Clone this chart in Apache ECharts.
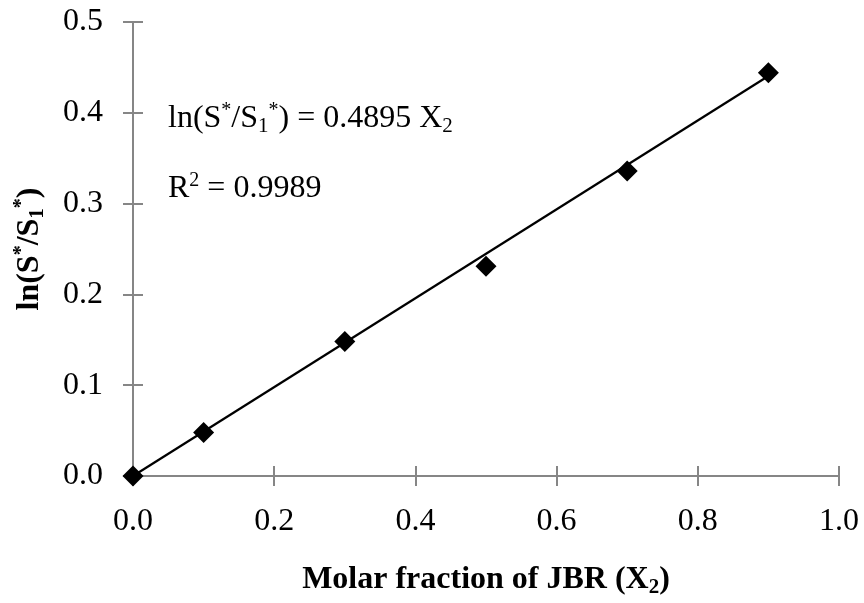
<!DOCTYPE html>
<html>
<head>
<meta charset="utf-8">
<script src="https://cdn.jsdelivr.net/npm/echarts@6/dist/echarts.min.js"></script>
<style>html,body{margin:0;padding:0;background:#fff}#c{width:864px;height:603px}</style>
</head>
<body>
<div id="c"></div>
<script>
const xValues = [0.0, 0.1, 0.3, 0.5, 0.7, 0.9];
const yValues = [0.0, 0.048, 0.148, 0.231, 0.336, 0.444];
const slope = 0.4895;
const rSquared = '0.9989';
const trendX = [0.0, 0.9];

const FONT = '"Liberation Serif","Times New Roman",serif';
const chart = echarts.init(document.getElementById('c'));

const points = xValues.map((x, i) => [x, yValues[i]]);
const trend = trendX.map(x => [x, slope * x]);

const axisLine = {show: true, lineStyle: {color: '#868686', width: 2}};
const fmt = v => v.toFixed(1);

const rich = {
  n: {fontFamily: FONT, fontSize: 32, lineHeight: 36, color: '#000', verticalAlign: 'middle'},
  sup: {fontFamily: FONT, fontSize: 20, lineHeight: 20, color: '#000', verticalAlign: 'top'},
  sub: {fontFamily: FONT, fontSize: 21, lineHeight: 20, color: '#000', verticalAlign: 'bottom'}
};
const richB = {
  n: {fontFamily: FONT, fontSize: 32, lineHeight: 36, fontWeight: 'bold', color: '#000'},
  sup: {fontFamily: FONT, fontSize: 20, lineHeight: 20, fontWeight: 'bold', color: '#000', verticalAlign: 'top'},
  sub: {fontFamily: FONT, fontSize: 21, lineHeight: 20, fontWeight: 'bold', color: '#000', verticalAlign: 'bottom'}
};

chart.setOption({
  animation: false,
  backgroundColor: '#fff',
  grid: {left: 133, right: 25, top: 22, bottom: 125, containLabel: false},
  xAxis: [{
    type: 'value', min: 0, max: 1, interval: 0.2, position: 'bottom',
    axisLine: axisLine,
    axisTick: {show: true, inside: false, length: 10, lineStyle: {color: '#868686', width: 2}},
    axisLabel: {formatter: fmt, fontFamily: FONT, fontSize: 32, color: '#000', margin: 30},
    splitLine: {show: false},
    name: '{n|Molar fraction of JBR (X}{sub|2}{n|)}',
    nameLocation: 'middle', nameGap: 86,
    nameTextStyle: {rich: richB, fontFamily: FONT, fontSize: 32, fontWeight: 'bold', color: '#000'}
  }, {
    type: 'value', min: 0, max: 1, interval: 0.2, position: 'bottom', offset: 0,
    axisLine: {show: false},
    axisTick: {show: true, inside: true, length: 10, lineStyle: {color: '#868686', width: 2}},
    axisLabel: {show: false}, splitLine: {show: false}
  }],
  yAxis: [{
    type: 'value', min: 0, max: 0.5, interval: 0.1, position: 'left',
    axisLine: axisLine,
    axisTick: {show: true, inside: false, length: 10, lineStyle: {color: '#868686', width: 2}},
    axisLabel: {formatter: fmt, fontFamily: FONT, fontSize: 32, color: '#000', margin: 30},
    splitLine: {show: false},
    name: '{n|ln(S}{sup|*}{n|/S}{sub|1}{sup|*}{n|)}',
    nameLocation: 'middle', nameGap: 85, nameRotate: 90,
    nameTextStyle: {rich: richB, fontFamily: FONT, fontSize: 32, fontWeight: 'bold', color: '#000'}
  }, {
    type: 'value', min: 0, max: 0.5, interval: 0.1, position: 'left', offset: 0,
    axisLine: {show: false},
    axisTick: {show: true, inside: true, length: 10, lineStyle: {color: '#868686', width: 2}},
    axisLabel: {show: false}, splitLine: {show: false}
  }],
  graphic: [{
    type: 'text', left: 168, top: 101, z: 10,
    style: {
      text: '{n|ln(S}{sup|*}{n|/S}{sub|1}{sup|*}{n|) = 0.4895 X}{sub|2}',
      rich: rich, font: '32px ' + FONT, fill: '#000'
    }
  }, {
    type: 'text', left: 168, top: 171, z: 10,
    style: {
      text: '{n|R}{sup|2}{n| = ' + rSquared + '}',
      rich: rich, font: '32px ' + FONT, fill: '#000'
    }
  }],
  series: [{
    type: 'line', data: trend, xAxisIndex: 0, yAxisIndex: 0,
    showSymbol: false, symbol: 'none',
    lineStyle: {color: '#000', width: 2.2}, z: 2, silent: true
  }, {
    type: 'scatter', data: points, xAxisIndex: 0, yAxisIndex: 0,
    symbol: 'diamond', symbolSize: 21,
    itemStyle: {color: '#000', opacity: 1}, z: 3
  }]
});
</script>
</body>
</html>
